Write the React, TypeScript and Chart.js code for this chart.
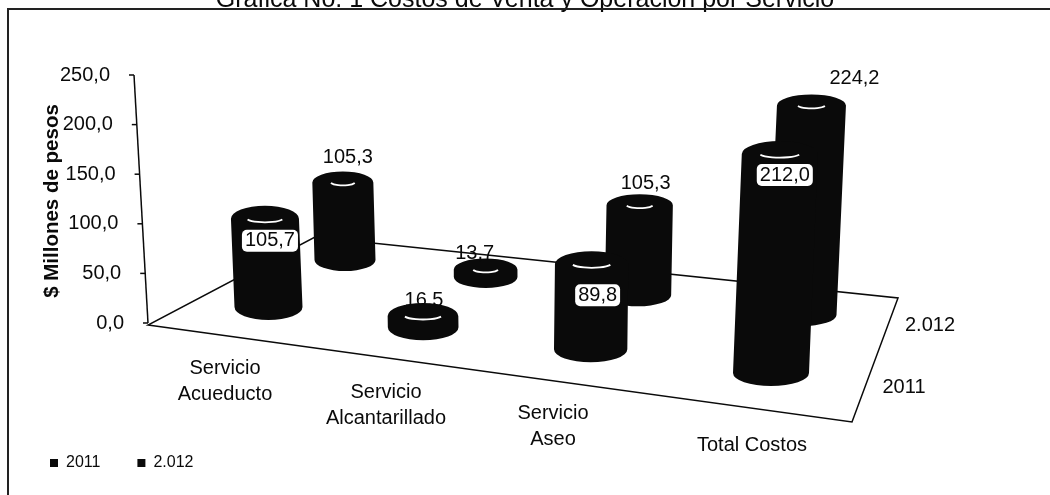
import React, { useEffect, useRef } from "react";
import { Chart, BarController, BarElement, CategoryScale, LinearScale, Legend, Title } from "chart.js";

const categories = [["Servicio", "Acueducto"], ["Servicio", "Alcantarillado"], ["Servicio", "Aseo"], ["Total Costos"]];
const series2011 = [105.7, 16.5, 89.8, 212.0];
const series2012 = [105.3, 13.7, 105.3, 224.2];
const seriesNames = ["2011", "2.012"];
const yTicks = [0, 50, 100, 150, 200, 250];
const titleText = "Gráfica No. 1 Costos de Venta y Operación por Servicio";
const yTitle = "$ Millones de pesos";

const W = 1050, H = 495;
const FONT = "'Liberation Sans', Arial, sans-serif";
const INK = "#0a0a0a";

// 3-D layout: where the centres of the outer cylinder bases fall on the floor
const rowNear = [[268.5, 307], [771, 373]];
const rowFar = [[345, 260], [802, 315]];
const floor = [[148, 325], [852, 422], [898, 298], [315, 237]];
const catLabelPos = [[225, 368], [386, 392], [553, 413], [752, 445]];
const depthLabelPos = [[904, 387], [930, 325]];
// data-label offsets from the top centre of each cylinder, and whether it is boxed
const labelOffset = [
  [[5, 22], [1, -15], [6, 31], [5, 21]],
  [[5, -25], [-11, -16], [6, -22], [43, -27]],
];
const labelBoxed = [[true, false, true, true], [false, false, false, false]];

function project(u: number, v: number) {
  const w = u - 0.115 * u * (1 - u);
  const nx = rowNear[0][0] + (rowNear[1][0] - rowNear[0][0]) * w;
  const ny = rowNear[0][1] + (rowNear[1][1] - rowNear[0][1]) * w;
  const fx = rowFar[0][0] + (rowFar[1][0] - rowFar[0][0]) * w;
  const fy = rowFar[0][1] + (rowFar[1][1] - rowFar[0][1]) * w;
  return { x: nx + (fx - nx) * v, y: ny + (fy - ny) * v };
}

function cylinder(chart: any, catIndex: number, depth: number, value: number) {
  const xs = chart.scales.x, ys = chart.scales.y;
  const u = xs.getDecimalForPixel(xs.getPixelForValue(catIndex));
  const b = project(u, depth);
  const k = 0.88 + 0.18 * u - 0.1 * depth;
  const h = (ys.getPixelForValue(0) - ys.getPixelForValue(value)) * k - 4;
  const lean = (b.x - 520) * 0.00016;
  const rx = 34 + 4 * u - 3.5 * depth;
  const ry = 13 - 2 * depth;
  return { bx: b.x, by: b.y, tx: b.x + lean * h, ty: b.y - h, rx, ry };
}

class CylinderController extends BarController {
  static id = "cylinder";
  static defaults = { ...BarController.defaults, dataElementType: "bar" };
  static overrides = BarController.overrides;
  draw() {
    const chart: any = this.chart;
    const ctx = chart.ctx;
    const depth = this.index;
    const meta = this.getMeta();
    ctx.save();
    meta.data.forEach((_: any, i: number) => {
      const value = (this.getParsed(i) as any).y;
      const c = cylinder(chart, i, depth, value);
      ctx.fillStyle = INK;
      ctx.beginPath();
      ctx.ellipse(c.bx, c.by, c.rx, c.ry, 0, 0, Math.PI);
      ctx.lineTo(c.tx - c.rx, c.ty);
      ctx.ellipse(c.tx, c.ty, c.rx, c.ry, 0, Math.PI, 2 * Math.PI);
      ctx.closePath();
      ctx.fill();
      // highlight on the top face
      const f = depth === 0 ? 0.55 : 0.42;
      ctx.strokeStyle = "#ffffff";
      ctx.lineWidth = 1.8;
      ctx.beginPath();
      ctx.ellipse(c.tx, c.ty - 1, c.rx * f, c.ry * 0.35, 0, 0.12 * Math.PI, 0.88 * Math.PI);
      ctx.stroke();
    });
    ctx.restore();
  }
}

Chart.register(CylinderController, BarElement, CategoryScale, LinearScale, Legend, Title);

const decoration = {
  id: "decoration",
  beforeDraw(chart: any) {
    const ctx = chart.ctx;
    ctx.save();
    ctx.fillStyle = "#ffffff";
    ctx.fillRect(0, 0, W, H);
    ctx.restore();
  },
  beforeDatasetsDraw(chart: any) {
    const ctx = chart.ctx;
    const ys = chart.scales.y;
    ctx.save();
    // floor
    ctx.strokeStyle = INK;
    ctx.lineWidth = 1.5;
    ctx.beginPath();
    floor.forEach((p, i) => (i ? ctx.lineTo(p[0], p[1]) : ctx.moveTo(p[0], p[1])));
    ctx.closePath();
    ctx.stroke();
    // slanted value axis
    const axisX = (v: number) => 148 - v * 0.056;
    ctx.beginPath();
    ctx.moveTo(axisX(0), ys.getPixelForValue(0));
    ctx.lineTo(axisX(250), ys.getPixelForValue(250));
    ctx.stroke();
    ctx.fillStyle = INK;
    ctx.font = `20px ${FONT}`;
    ctx.textAlign = "right";
    ctx.textBaseline = "middle";
    ys.ticks.forEach((t: any) => {
      const y = ys.getPixelForValue(t.value);
      const x = axisX(t.value);
      ctx.beginPath();
      ctx.moveTo(x - 5, y);
      ctx.lineTo(x, y);
      ctx.stroke();
      ctx.fillText(t.value.toFixed(1).replace(".", ","), x - 24, y);
    });
    // axis title
    ctx.save();
    ctx.translate(52, 201);
    ctx.rotate(-Math.PI / 2);
    ctx.font = `bold 20.5px ${FONT}`;
    ctx.textAlign = "center";
    ctx.fillText(yTitle, 0, 0);
    ctx.restore();
    // category and depth labels
    ctx.font = `20px ${FONT}`;
    ctx.textAlign = "center";
    chart.scales.x.getLabels().forEach((lab: string[], i: number) => {
      lab.forEach((line, j) => ctx.fillText(line, catLabelPos[i][0], catLabelPos[i][1] + j * 26));
    });
    chart.data.datasets.forEach((d: any, i: number) => {
      ctx.fillText(d.label, depthLabelPos[i][0], depthLabelPos[i][1]);
    });
    ctx.restore();
  },
  afterDatasetsDraw(chart: any) {
    const ctx = chart.ctx;
    ctx.save();
    ctx.font = `20px ${FONT}`;
    ctx.textAlign = "center";
    ctx.textBaseline = "middle";
    chart.data.datasets.forEach((d: any, depth: number) => {
      d.data.forEach((value: number, i: number) => {
        const c = cylinder(chart, i, depth, value);
        const x = c.tx + labelOffset[depth][i][0];
        const y = c.ty + labelOffset[depth][i][1];
        const text = value.toFixed(1).replace(".", ",");
        if (labelBoxed[depth][i]) {
          const w = ctx.measureText(text).width + 6;
          ctx.fillStyle = "#ffffff";
          ctx.beginPath();
          ctx.roundRect(x - w / 2, y - 11, w, 22, 5);
          ctx.fill();
        }
        ctx.fillStyle = INK;
        ctx.fillText(text, x, y);
      });
    });
    // frame: only the top and left rules survive in the scan
    ctx.strokeStyle = "#222222";
    ctx.lineWidth = 2;
    ctx.beginPath();
    ctx.moveTo(8, H);
    ctx.lineTo(8, 9);
    ctx.lineTo(W, 9);
    ctx.stroke();
    ctx.restore();
  },
};

export default function App() {
  const ref = useRef<HTMLCanvasElement>(null);
  useEffect(() => {
    const chart = new Chart(ref.current as HTMLCanvasElement, {
      type: "cylinder" as any,
      data: {
        labels: categories as any,
        datasets: [
          { label: seriesNames[0], data: series2011, backgroundColor: INK, clip: false } as any,
          { label: seriesNames[1], data: series2012, backgroundColor: INK, clip: false } as any,
        ],
      },
      plugins: [decoration],
      options: {
        animation: false,
        responsive: false,
        maintainAspectRatio: false,
        layout: { padding: { left: 13, right: 13, top: 0, bottom: 14 } },
        scales: {
          x: {
            type: "category",
            offset: false,
            grid: { display: false },
            border: { display: false },
            ticks: { display: false },
            afterFit(scale: any) {
              scale.height = 95;
            },
          },
          y: {
            type: "linear",
            display: false,
            min: yTicks[0],
            max: yTicks[yTicks.length - 1],
            ticks: { stepSize: yTicks[1] - yTicks[0] },
          },
        },
        plugins: {
          tooltip: { enabled: false },
          title: {
            display: true,
            text: titleText,
            color: INK,
            font: { family: FONT, size: 25, weight: "normal" },
            padding: { top: -15, bottom: 60 },
          },
          legend: {
            display: true,
            position: "bottom",
            align: "start",
            labels: {
              color: INK,
              boxWidth: 8,
              boxHeight: 8,
              padding: 37,
              font: { family: FONT, size: 16 },
            },
          },
        },
      } as any,
    });
    return () => chart.destroy();
  }, []);
  return (
    <div style={{ position: "absolute", left: 0, top: 0, width: W, height: H, background: "#fff" }}>
      <canvas ref={ref} width={W} height={H} style={{ display: "block" }} />
    </div>
  );
}
